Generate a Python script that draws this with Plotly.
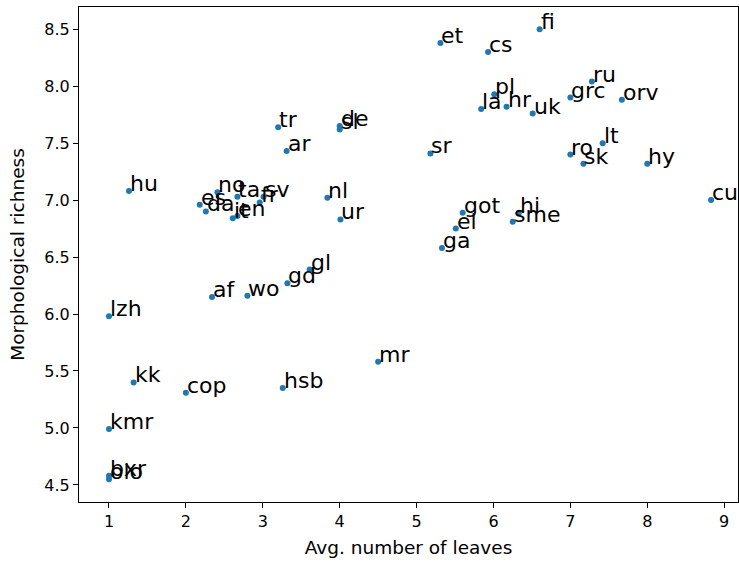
import plotly.graph_objects as go

langs = ["fi", "et", "cs", "ru", "pl", "grc", "orv", "la", "hr", "uk",
         "sr", "ro", "lt", "sk", "hy", "cu", "got", "el", "ga", "hi", "sme",
         "tr", "de", "sl", "ar", "nl", "ur", "hu", "es", "da", "no", "ta",
         "fr", "sv", "it", "en", "af", "wo", "gd", "gl", "lzh", "kk", "cop",
         "hsb", "mr", "kmr", "bxr", "olo"]
leaves = [6.60, 5.31, 5.93, 7.28, 6.01, 7.00, 7.67, 5.84, 6.17, 6.51,
          5.18, 7.00, 7.42, 7.17, 8.00, 8.83, 5.60, 5.51, 5.33, 6.33, 6.25,
          3.20, 4.00, 4.00, 3.31, 3.84, 4.01, 1.26, 2.18, 2.26, 2.41, 2.67,
          2.96, 3.01, 2.61, 2.67, 2.34, 2.80, 3.32, 3.61, 1.00, 1.32, 2.00,
          3.26, 4.50, 1.00, 1.00, 1.00]
richness = [8.50, 8.38, 8.30, 8.04, 7.93, 7.90, 7.88, 7.80, 7.82, 7.76,
            7.41, 7.40, 7.50, 7.32, 7.32, 7.00, 6.89, 6.75, 6.58, 6.89, 6.81,
            7.64, 7.65, 7.62, 7.43, 7.02, 6.83, 7.08, 6.96, 6.90, 7.07, 7.03,
            6.98, 7.03, 6.84, 6.86, 6.15, 6.16, 6.27, 6.39, 5.98, 5.40, 5.31,
            5.35, 5.58, 4.99, 4.58, 4.55]

x_ticks = [1, 2, 3, 4, 5, 6, 7, 8, 9]
y_ticks = [4.5, 5.0, 5.5, 6.0, 6.5, 7.0, 7.5, 8.0, 8.5]

fig = go.Figure()
fig.add_trace(go.Scatter(
    x=leaves, y=richness, mode="markers",
    marker=dict(color="#1f77b4", size=6, line=dict(width=0)),
    hoverinfo="skip", showlegend=False,
))

for name, xv, yv in zip(langs, leaves, richness):
    fig.add_annotation(
        x=xv, y=yv, text=name, showarrow=False,
        xanchor="left", yanchor="bottom", xshift=-1, yshift=-7,
        font=dict(family="DejaVu Sans", size=22, color="black"),
    )

axis_common = dict(
    showline=True, linecolor="black", linewidth=1, mirror=True,
    ticks="outside", ticklen=5, tickcolor="black", tickwidth=1,
    showgrid=False, zeroline=False,
    tickfont=dict(family="DejaVu Sans", size=16, color="black"),
)

fig.update_layout(
    width=739, height=563,
    margin=dict(l=79, r=1, t=7, b=61),
    paper_bgcolor="white", plot_bgcolor="white",
    xaxis=dict(range=[0.61, 9.18], tickvals=x_ticks,
               ticktext=[str(v) for v in x_ticks],
               title=dict(text="Avg. number of leaves", standoff=10,
                          font=dict(family="DejaVu Sans", size=18.5, color="black")),
               **axis_common),
    yaxis=dict(range=[4.35, 8.695], tickvals=y_ticks,
               ticktext=[f"{v:.1f}" for v in y_ticks],
               title=dict(text="Morphological richness", standoff=14,
                          font=dict(family="DejaVu Sans", size=18.5, color="black")),
               **axis_common),
)

fig.write_html("out.html")
